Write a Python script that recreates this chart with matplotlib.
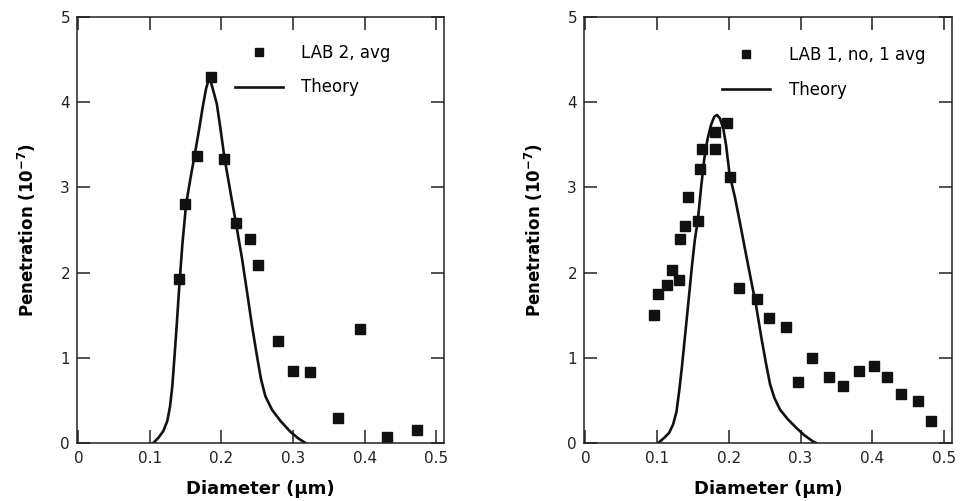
"""
Penetração vs. diâmetro: dados LAB 2 e LAB 1 comparados com a teoria.
"""

import matplotlib
matplotlib.use('Agg')
import matplotlib.pyplot as plt

# ── Dados: painel esquerdo (LAB 2, avg) ───────────────────────────────────────
lab2_d = [0.141, 0.149, 0.166, 0.185, 0.204, 0.220, 0.240, 0.251,
          0.279, 0.300, 0.324, 0.363, 0.394, 0.431, 0.473]
lab2_p = [1.93, 2.81, 3.37, 4.29, 3.33, 2.58, 2.40, 2.09,
          1.20, 0.85, 0.83, 0.29, 1.34, 0.07, 0.15]

teoria_esq_d = [0.1047, 0.1117, 0.1187, 0.1243, 0.1281, 0.1313, 0.1341, 0.1374,
                0.1411, 0.1453, 0.1505, 0.1565, 0.1625, 0.1687, 0.1739, 0.1785,
                0.1832, 0.1935, 0.1982, 0.2043, 0.2122, 0.2202, 0.2286, 0.2356,
                0.2426, 0.2496, 0.2552, 0.2613, 0.2706, 0.2823, 0.2964, 0.3080,
                0.3174]
teoria_esq_p = [0.00, 0.06, 0.14, 0.26, 0.43, 0.67, 0.99, 1.38,
                1.85, 2.33, 2.80, 3.10, 3.38, 3.68, 3.95, 4.16,
                4.30, 3.98, 3.71, 3.34, 2.96, 2.58, 2.17, 1.78,
                1.38, 1.02, 0.75, 0.55, 0.39, 0.26, 0.13, 0.05,
                0.00]

# ── Dados: painel direito (LAB 1, no, 1 avg) ──────────────────────────────────
lab1_d = [0.096, 0.101, 0.114, 0.120, 0.130, 0.132, 0.139, 0.143,
          0.157, 0.160, 0.162, 0.181, 0.181, 0.198, 0.201, 0.214,
          0.239, 0.256, 0.280, 0.297, 0.316, 0.340, 0.359, 0.381,
          0.402, 0.420, 0.440, 0.463, 0.482]
lab1_p = [1.50, 1.75, 1.85, 2.03, 1.91, 2.39, 2.55, 2.89,
          2.61, 3.21, 3.45, 3.45, 3.65, 3.76, 3.12, 1.82,
          1.69, 1.47, 1.36, 0.71, 1.00, 0.78, 0.67, 0.85,
          0.90, 0.78, 0.57, 0.49, 0.26]

teoria_dir_d = [0.1028, 0.1098, 0.1168, 0.1223, 0.1270, 0.1307, 0.1345, 0.1377,
                0.1415, 0.1447, 0.1484, 0.1526, 0.1568, 0.1610, 0.1656, 0.1703,
                0.1750, 0.1796, 0.1833, 0.1875, 0.1922, 0.1960, 0.2010, 0.2085,
                0.2160, 0.2235, 0.2309, 0.2378, 0.2448, 0.2518, 0.2574, 0.2634,
                0.2714, 0.2820, 0.2937, 0.3053, 0.3169, 0.3216]
teoria_dir_p = [0.01, 0.06, 0.12, 0.22, 0.37, 0.61, 0.89, 1.16,
                1.48, 1.75, 2.07, 2.39, 2.62, 2.98, 3.33, 3.57,
                3.73, 3.83, 3.85, 3.81, 3.69, 3.50, 3.15, 2.88,
                2.56, 2.23, 1.91, 1.62, 1.26, 0.93, 0.69, 0.53,
                0.39, 0.28, 0.18, 0.09, 0.02, 0.00]

x_ticks = [0, 0.1, 0.2, 0.3, 0.4, 0.5]
x_labels = ['0', '0.1', '0.2', '0.3', '0.4', '0.5']
y_ticks = [0, 1, 2, 3, 4, 5]

# ── Figura ────────────────────────────────────────────────────────────────────
plt.rcParams['font.family'] = ['DejaVu Sans']
plt.rcParams['mathtext.default'] = 'bf'

fig = plt.figure(figsize=(9.61, 5.01), dpi=100)
ax_esq = fig.add_axes([0.0801, 0.1158, 0.3819, 0.8503])
ax_dir = fig.add_axes([0.6077, 0.1158, 0.3829, 0.8503])

paineis = [
    (ax_esq, lab2_d, lab2_p, 'LAB 2, avg', teoria_esq_d, teoria_esq_p, (0.43, 0.937)),
    (ax_dir, lab1_d, lab1_p, 'LAB 1, no, 1 avg', teoria_dir_d, teoria_dir_p, (0.375, 0.932)),
]

cor = '#111111'

for ax, d, p, nome, td, tp, pos in paineis:
    ax.plot(d, p, 's', color=cor, markersize=7.5, label=nome)
    ax.plot(td, tp, '-', color=cor, linewidth=1.9, label='Theory',
            solid_joinstyle='round')

    ax.set_xlim(-0.002, 0.511)
    ax.set_ylim(0, 5)
    ax.set_xticks(x_ticks)
    ax.set_xticklabels(x_labels)
    ax.set_yticks(y_ticks)

    ax.tick_params(direction='in', length=9.5, width=1.1, top=True, right=True,
                   labelsize=11, colors='#222222')
    ax.tick_params(axis='x', pad=6)
    ax.tick_params(axis='y', pad=5)
    for sp in ax.spines.values():
        sp.set_linewidth(1.1)
        sp.set_color('#222222')

    ax.set_xlabel('Diameter (µm)', fontsize=13, fontweight='bold', labelpad=10)
    ax.set_ylabel(r'Penetration (10$^{-7}$)', fontsize=12, fontweight='bold',
                  labelpad=16)

    ax.legend(loc='upper left', bbox_to_anchor=pos, frameon=False, fontsize=12,
              handlelength=2.9, handletextpad=1.1, labelspacing=1.0,
              borderpad=0, borderaxespad=0, markerscale=0.8)

fig.savefig('out.png', dpi=100)
